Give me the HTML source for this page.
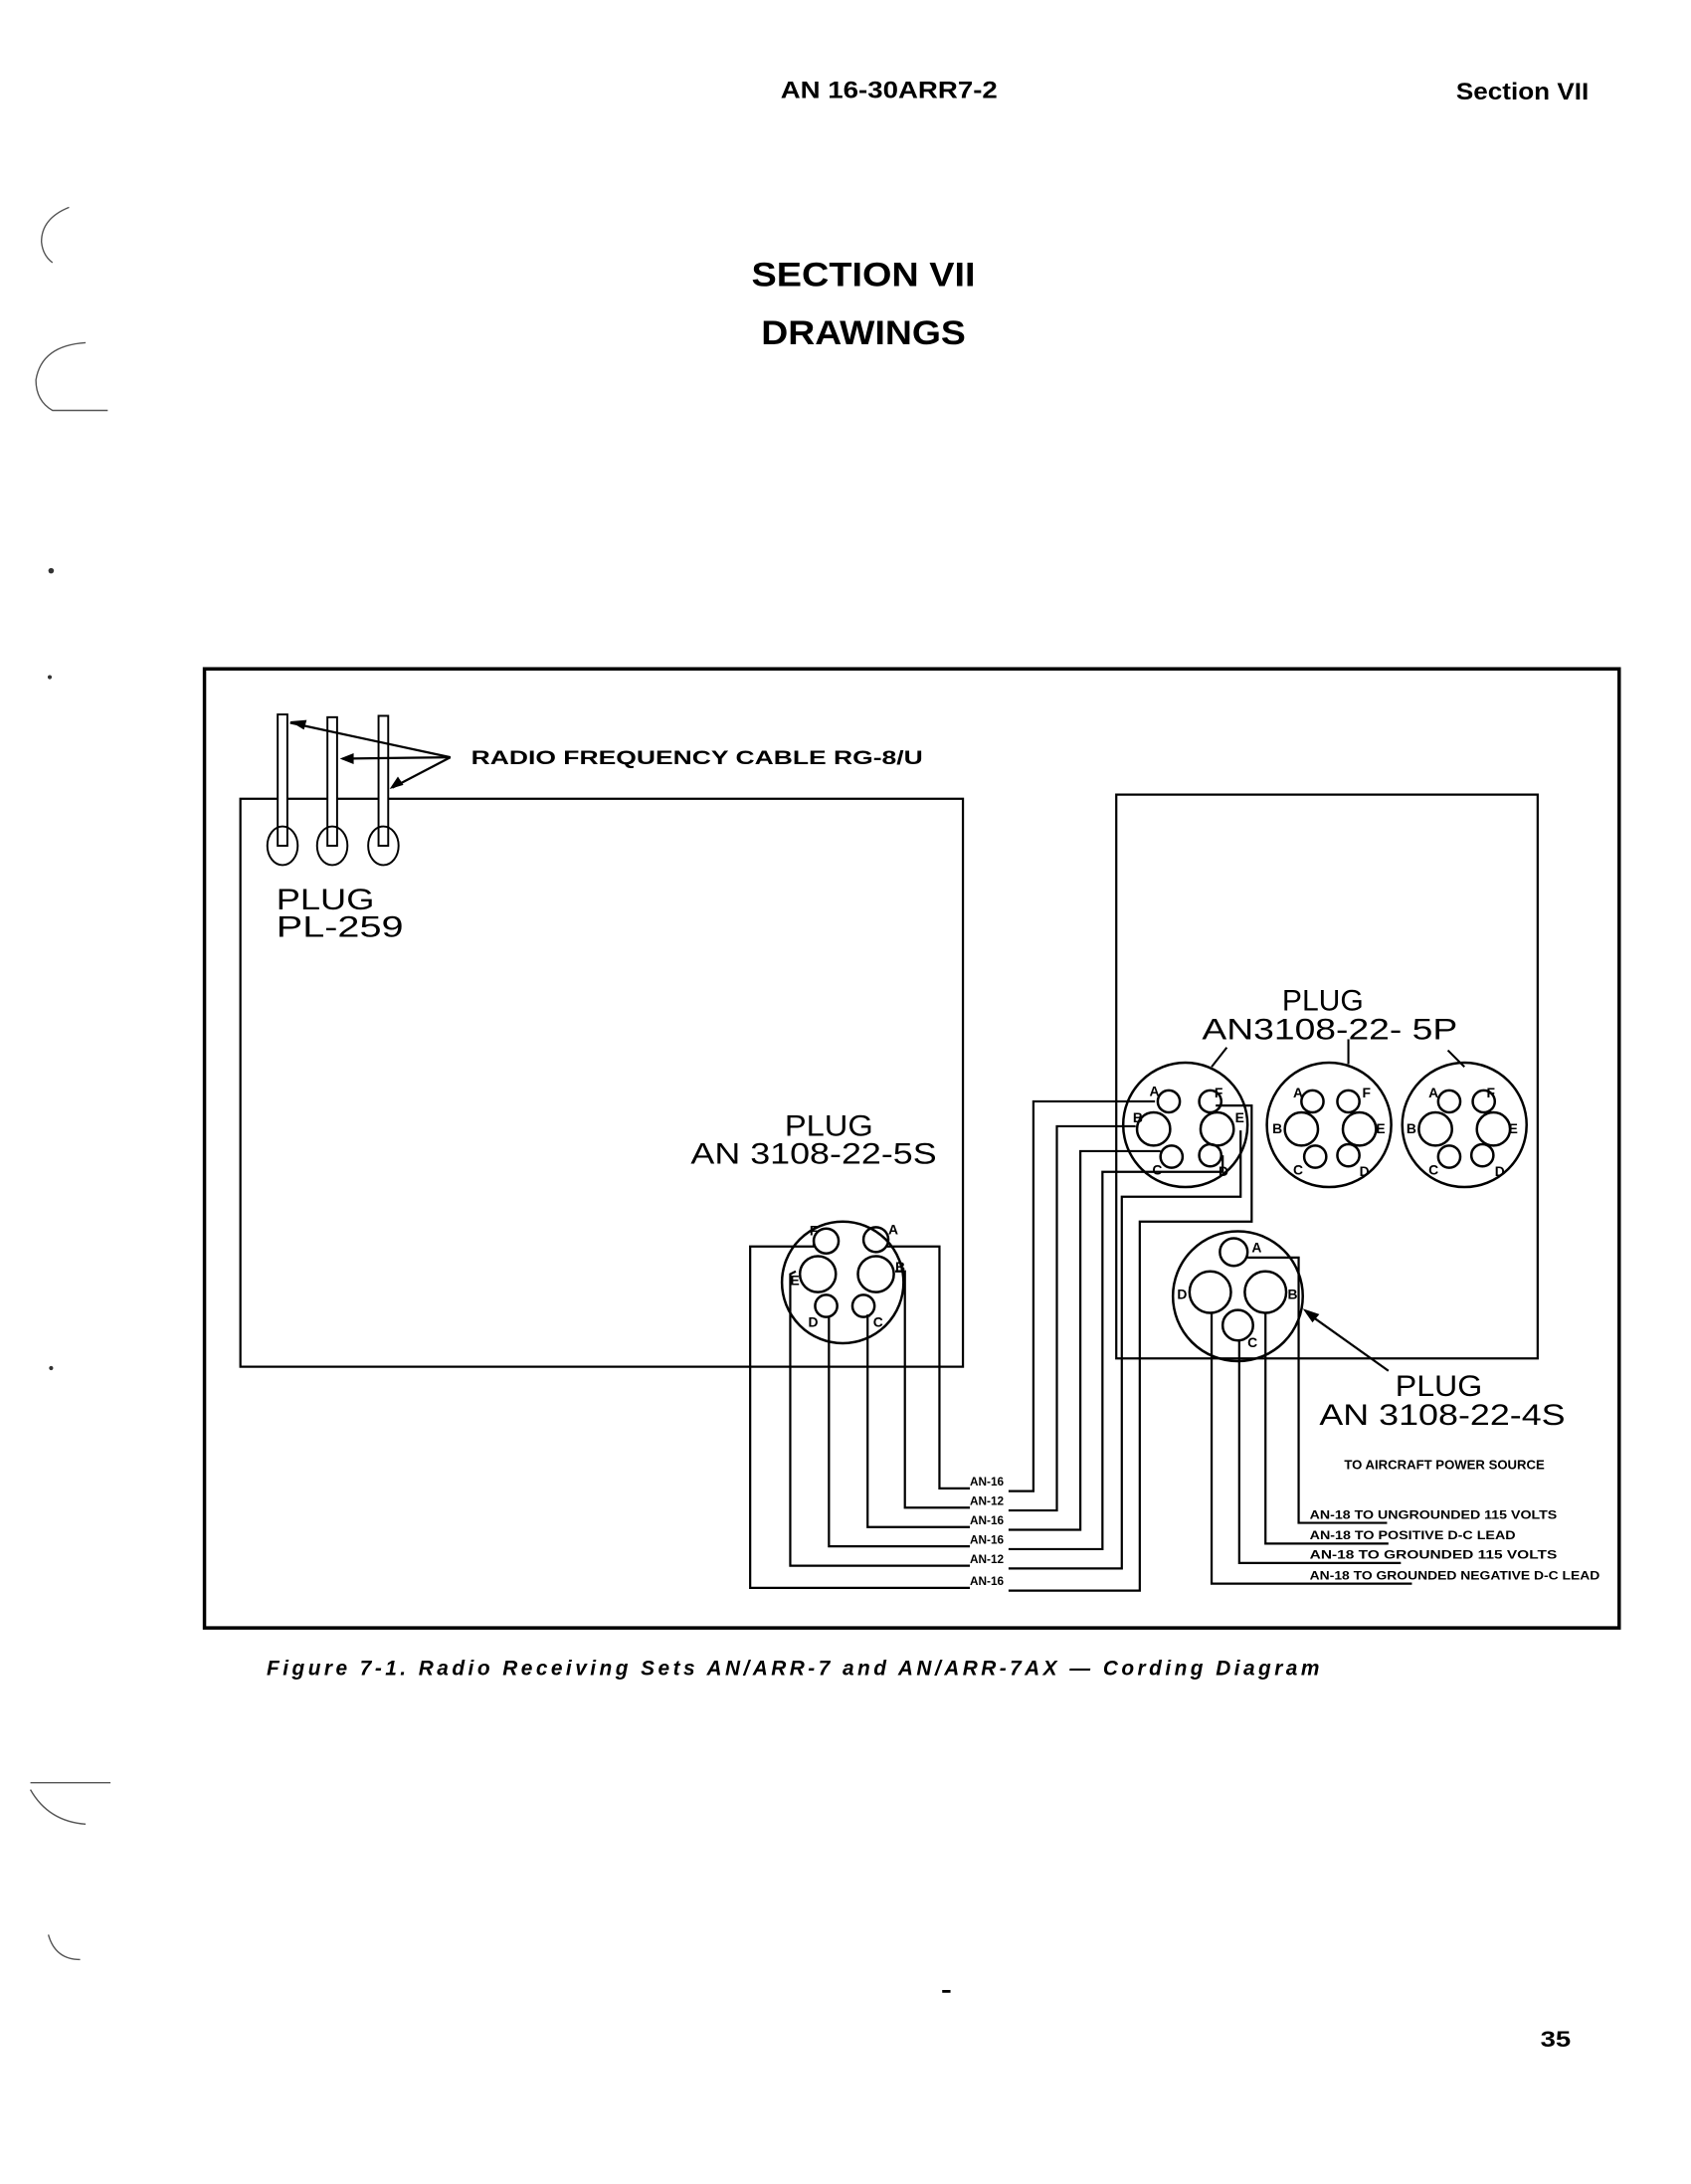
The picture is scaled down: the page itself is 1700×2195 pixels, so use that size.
<!DOCTYPE html>
<html><head><meta charset="utf-8">
<style>
html,body{margin:0;padding:0;background:#fff;}
svg{display:block;}
text{font-family:"Liberation Sans",sans-serif;fill:#000;}
</style></head>
<body>
<svg width="1700" height="2195" viewBox="0 0 1224 1580.4" xmlns="http://www.w3.org/2000/svg">
<!-- header -->
<text x="565" y="71" font-size="17" font-weight="bold" textLength="157" lengthAdjust="spacingAndGlyphs">AN 16-30ARR7-2</text>
<text x="1054" y="72" font-size="17" font-weight="bold" textLength="96" lengthAdjust="spacingAndGlyphs">Section VII</text>
<text x="544" y="207" font-size="25" font-weight="bold" textLength="162" lengthAdjust="spacingAndGlyphs">SECTION VII</text>
<text x="551" y="249" font-size="25" font-weight="bold" textLength="148" lengthAdjust="spacingAndGlyphs">DRAWINGS</text>

<g fill="none" stroke="#000">
<rect x="148" y="484" width="1024" height="694" stroke-width="2.5"/>
<rect x="174" y="578" width="523" height="411" stroke-width="1.6"/>
<rect x="808" y="575" width="305" height="408" stroke-width="1.6"/>

<g stroke-width="1.4" fill="#fff">
<rect x="201" y="517" width="7" height="95"/>
<rect x="237" y="519" width="7" height="93"/>
<rect x="274" y="518" width="7" height="94"/>
</g>
<g stroke-width="1.4">
<ellipse cx="204.5" cy="612" rx="11" ry="14"/>
<ellipse cx="240.5" cy="612" rx="11" ry="14"/>
<ellipse cx="277.5" cy="612" rx="11" ry="14"/>
</g>
<g stroke-width="1.6">
<line x1="326" y1="548" x2="210" y2="523"/>
<line x1="326" y1="548" x2="248" y2="549"/>
<line x1="326" y1="548" x2="284" y2="570"/>
</g>

<g stroke-width="1.8">
<circle cx="610" cy="928" r="44"/>
<circle cx="598" cy="898" r="9"/>
<circle cx="634" cy="897" r="9"/>
<circle cx="592" cy="922" r="13"/>
<circle cx="634" cy="922" r="13"/>
<circle cx="598" cy="945" r="8"/>
<circle cx="625" cy="945" r="8"/>
</g>
<g stroke-width="1.6">
<polyline points="642,902 680,902 680,1077 702,1077"/>
<polyline points="648,920 655,920 655,1091 702,1091"/>
<polyline points="630,952 628,952 628,1105 702,1105"/>
<polyline points="600,953 600,1119 702,1119"/>
<polyline points="576,920 572,922 572,1133 702,1133"/>
<polyline points="589,896 589,902 543,902 543,1149 702,1149"/>
<polyline points="730,1079 748,1079 748,797 836,797"/>
<polyline points="730,1093 765,1093 765,815 822,815"/>
<polyline points="730,1107 782,1107 782,833 840,833"/>
<polyline points="730,1121 798,1121 798,848 885,848 885,836"/>
<polyline points="730,1135 812,1135 812,866 898,866 898,818"/>
<polyline points="730,1151 825,1151 825,884 906,884 906,800 880,800"/>
</g>

<g stroke-width="1.8">
<circle cx="858" cy="814" r="45"/>
<circle cx="846" cy="797" r="8"/><circle cx="876" cy="797" r="8"/>
<circle cx="835" cy="817" r="12"/><circle cx="881" cy="817" r="12"/>
<circle cx="848" cy="837" r="8"/><circle cx="876" cy="836" r="8"/>
<circle cx="962" cy="814" r="45"/>
<circle cx="950" cy="797" r="8"/><circle cx="976" cy="797" r="8"/>
<circle cx="942" cy="817" r="12"/><circle cx="984" cy="817" r="12"/>
<circle cx="952" cy="837" r="8"/><circle cx="976" cy="836" r="8"/>
<circle cx="1060" cy="814" r="45"/>
<circle cx="1049" cy="797" r="8"/><circle cx="1074" cy="797" r="8"/>
<circle cx="1039" cy="817" r="12"/><circle cx="1081" cy="817" r="12"/>
<circle cx="1049" cy="837" r="8"/><circle cx="1073" cy="836" r="8"/>
</g>
<g stroke-width="1.5">
<line x1="888" y1="758" x2="877" y2="772"/>
<line x1="976" y1="752" x2="976" y2="770"/>
<line x1="1048" y1="760" x2="1060" y2="772"/>
</g>

<g stroke-width="1.8">
<circle cx="896" cy="938" r="47"/>
<circle cx="893" cy="906" r="10"/>
<circle cx="876" cy="935" r="15"/>
<circle cx="916" cy="935" r="15"/>
<circle cx="896" cy="959" r="11"/>
</g>
<g stroke-width="1.6">
<polyline points="903,910 940,910 940,1102 1004,1102"/>
<polyline points="916,950 916,1117 1005,1117"/>
<polyline points="897,970 897,1131 1014,1131"/>
<polyline points="877,950 877,1146 1022,1146"/>
<line x1="1005" y1="992" x2="946" y2="950"/>
</g>
</g>
<polygon points="943,947 955,951 950,957" fill="#000"/>
<polygon points="210,522 222,521 220,528" fill="#000"/>
<polygon points="246,549 256,545 256,553" fill="#000"/>
<polygon points="282,571 288,562 292,568" fill="#000"/>

<text x="341" y="553" font-size="14" font-weight="bold" textLength="327" lengthAdjust="spacingAndGlyphs">RADIO FREQUENCY CABLE RG-8/U</text>
<text x="200" y="658" font-size="21" textLength="71" lengthAdjust="spacingAndGlyphs">PLUG</text>
<text x="200" y="678" font-size="21" textLength="92" lengthAdjust="spacingAndGlyphs">PL-259</text>
<text x="568" y="822" font-size="21" textLength="64" lengthAdjust="spacingAndGlyphs">PLUG</text>
<text x="500" y="842" font-size="21" textLength="178" lengthAdjust="spacingAndGlyphs">AN 3108-22-5S</text>
<text x="928" y="731" font-size="21" textLength="59" lengthAdjust="spacingAndGlyphs">PLUG</text>
<text x="870" y="752" font-size="21" textLength="185" lengthAdjust="spacingAndGlyphs">AN3108-22- 5P</text>
<text x="1010" y="1010" font-size="21" textLength="63" lengthAdjust="spacingAndGlyphs">PLUG</text>
<text x="955" y="1031" font-size="21" textLength="178" lengthAdjust="spacingAndGlyphs">AN 3108-22-4S</text>
<text x="973" y="1063" font-size="9" font-weight="bold" textLength="145" lengthAdjust="spacingAndGlyphs">TO AIRCRAFT POWER SOURCE</text>

<g font-size="8.5" font-weight="bold">
<text x="702" y="1075">AN-16</text>
<text x="702" y="1089">AN-12</text>
<text x="702" y="1103">AN-16</text>
<text x="702" y="1117">AN-16</text>
<text x="702" y="1131">AN-12</text>
<text x="702" y="1147">AN-16</text>
<text x="948" y="1099" textLength="179" lengthAdjust="spacingAndGlyphs">AN-18  TO UNGROUNDED 115 VOLTS</text>
<text x="948" y="1114" textLength="149" lengthAdjust="spacingAndGlyphs">AN-18  TO POSITIVE D-C LEAD</text>
<text x="948" y="1128" textLength="179" lengthAdjust="spacingAndGlyphs">AN-18  TO GROUNDED 115 VOLTS</text>
<text x="948" y="1143" textLength="210" lengthAdjust="spacingAndGlyphs">AN-18  TO GROUNDED NEGATIVE D-C LEAD</text>
</g>
<g font-size="10" font-weight="bold">
<text x="586" y="894">F</text><text x="643" y="893">A</text>
<text x="572" y="930">E</text><text x="648" y="920">B</text>
<text x="585" y="960">D</text><text x="632" y="960">C</text>
<text x="832" y="793">A</text><text x="879" y="794">F</text>
<text x="820" y="812">B</text><text x="894" y="812">E</text>
<text x="834" y="850">C</text><text x="882" y="851">D</text>
<text x="936" y="794">A</text><text x="986" y="794">F</text>
<text x="921" y="820">B</text><text x="996" y="820">E</text>
<text x="936" y="850">C</text><text x="984" y="851">D</text>
<text x="1034" y="794">A</text><text x="1076" y="794">F</text>
<text x="1018" y="820">B</text><text x="1092" y="820">E</text>
<text x="1034" y="850">C</text><text x="1082" y="851">D</text>
<text x="906" y="906">A</text><text x="852" y="940">D</text>
<text x="932" y="940">B</text><text x="903" y="975">C</text>
</g>

<text x="193" y="1212" font-size="15" font-weight="bold" font-style="italic" textLength="762" lengthAdjust="spacing">Figure 7-1.    Radio Receiving Sets AN/ARR-7 and AN/ARR-7AX — Cording Diagram</text>
<text x="1115" y="1481" font-size="16" font-weight="bold" textLength="22" lengthAdjust="spacingAndGlyphs">35</text>
<rect x="682" y="1440" width="6" height="2" fill="#000"/>

<g fill="none" stroke="#555" stroke-width="1">
<path d="M50 150 Q30 158 30 175 Q31 185 38 190"/>
<path d="M62 248 Q30 250 26 275 Q26 290 38 297 L78 297"/>
<path d="M22 1290 L80 1290 M22 1295 Q35 1318 62 1320"/>
<path d="M35 1400 Q40 1418 58 1418"/>
</g>
<circle cx="37" cy="413" r="2" fill="#333"/>
<circle cx="36" cy="490" r="1.5" fill="#333"/>
<circle cx="37" cy="990" r="1.5" fill="#333"/>
</svg>
</body></html>
